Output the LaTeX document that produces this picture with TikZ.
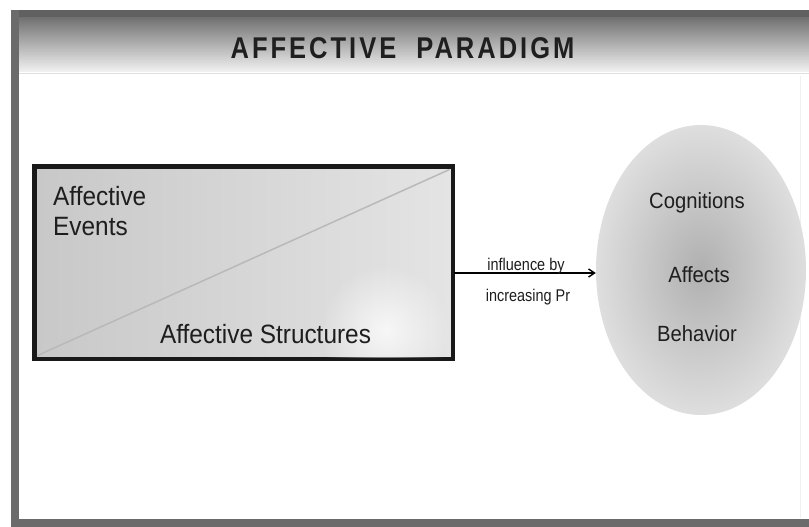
\documentclass[tikz,border=0pt]{standalone}
\usepackage{fontspec}
\setmainfont{Liberation Sans}
\newfontfamily\titlefont[FakeStretch=0.85,LetterSpace=10]{Liberation Sans}
\newfontfamily\narrowfont[FakeStretch=0.92]{Liberation Sans}
\newfontfamily\narrowerfont[FakeStretch=0.85]{Liberation Sans}
\usetikzlibrary{shapes.geometric,arrows.meta,fadings}
\tikzfading[name=glowfade, inner color=transparent!0, outer color=transparent!100]
\definecolor{barcol}{HTML}{6B6B6B}
\definecolor{hdrdark}{HTML}{707070}
\definecolor{hdrlight}{HTML}{F2F2F2}
\definecolor{boxleft}{HTML}{C8C8C8}
\definecolor{boxright}{HTML}{E4E4E4}
\definecolor{ellin}{HTML}{B0B0B0}
\definecolor{ellout}{HTML}{DEDEDE}
\definecolor{txt}{HTML}{1E1E1E}
\tikzset{
  bodytext/.style={font=\narrowfont\fontsize{26.5}{30}\selectfont, text=txt, align=left, inner sep=0pt},
  elltext/.style={font=\narrowfont\fontsize{22}{24}\selectfont, text=txt, inner sep=0pt},
  labeltext/.style={font=\narrowerfont\fontsize{17}{19}\selectfont, text=txt, inner sep=0pt},
  arr/.style={line width=1.6pt, -{Straight Barb[length=6pt,width=8pt,line width=1.4pt]}}
}
\begin{document}
\begin{tikzpicture}[x=1pt,y=-1pt]
\useasboundingbox (0,0) rectangle (809,527);
\fill[white] (0,0) rectangle (809,527);
% header band
\shade[top color=hdrdark, bottom color=hdrlight] (11,17) rectangle (809,72);
\fill[barcol!90!black] (11,10) rectangle (809,17);
\draw[gray!25, line width=1pt] (19,73.5) -- (809,73.5);
% left and bottom bars
\fill[barcol] (11,10) rectangle (19,527);
\fill[barcol] (11,519) rectangle (809,527);
\draw[gray!12, line width=1pt] (800,76) -- (800,518);
% title
\node[font=\titlefont\bfseries\fontsize{30}{34}\selectfont, text=black!88, inner sep=0pt, anchor=base] (title) at (402.5,59) {AFFECTIVE\ \ PARADIGM};
% box
\node[draw=black!90, line width=3pt, minimum width=417pt, minimum height=191pt, inner sep=0pt,
      left color=boxleft, right color=boxright] (box) at (243.5,262.5) {};
\begin{scope}
  \clip (box.south west) rectangle (box.north east);
  \fill[white, path fading=glowfade, opacity=0.75] (385,330) circle (65);
\end{scope}
\draw[line width=3pt, black!90] (box.south west) rectangle (box.north east);
\draw[gray!55, line width=1.5pt] ([shift={(4,-4)}]box.south west) -- ([shift={(-4,4)}]box.north east);
\node[bodytext, anchor=base west] (ev) at (53,235) {Affective\\[0pt]Events};
\node[bodytext, anchor=base] (st) at (265.5,343) {Affective Structures};
% ellipse
\node[ellipse, minimum width=210pt, minimum height=290pt, inner sep=0pt,
      inner color=ellin, outer color=ellout] (ell) at (701,270) {};
\node[elltext, anchor=base] (cog) at (697,208) {Cognitions};
\node[elltext, anchor=base] (aff) at (699,282) {Affects};
\node[elltext, anchor=base] (beh) at (697,341) {Behavior};
% arrow
\coordinate (ay) at (0,273);
\draw[arr] (box.east |- ay) -- (ell.west |- ay);
\node[labeltext, anchor=base] (l1) at (526,270) {influence by};
\node[labeltext, anchor=base] (l2) at (528,301) {increasing Pr};
\end{tikzpicture}
\end{document}
